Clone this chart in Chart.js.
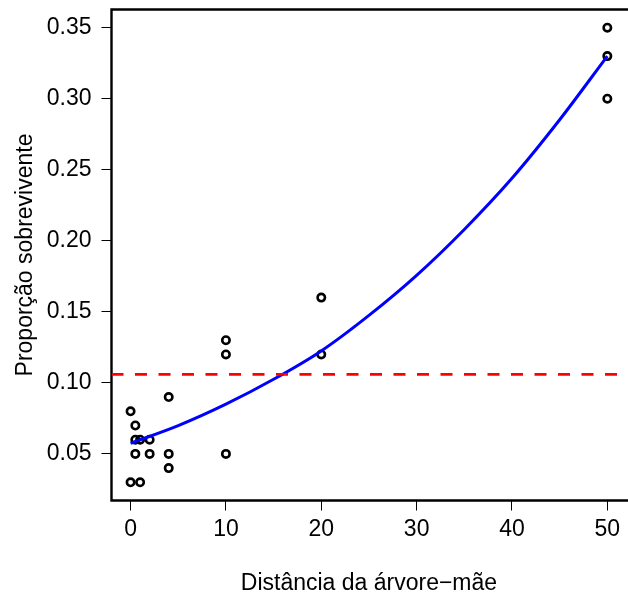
<!DOCTYPE html>
<html><head><meta charset="utf-8">
<script src="https://cdn.jsdelivr.net/npm/chart.js@4"></script>
<style>html,body{margin:0;padding:0;background:#fff;}canvas{display:block;}</style>
</head><body>
<canvas id="c" width="628" height="597"></canvas>
<script>
// Observed data: distance from mother tree vs proportion surviving
const distX = [0, 0, 0.5, 0.5, 0.5, 1, 1, 2, 2, 4, 4, 4, 10, 10, 10, 20, 20, 50, 50, 50];
const survY = [0.08, 0.03, 0.07, 0.06, 0.05, 0.06, 0.03, 0.06, 0.05, 0.09, 0.05, 0.04, 0.13, 0.12, 0.05, 0.16, 0.12, 0.35, 0.33, 0.30];
// Fitted curve
const curveX = [0, 5, 10, 15, 20, 25, 30, 35, 40, 45, 50];
const curveY = [0.0575, 0.0699, 0.0850, 0.1025, 0.1225, 0.1475, 0.1757, 0.2080, 0.2440, 0.2852, 0.3300];
// Mean proportion (dashed red line)
const meanY = [0.106];
// Axes
const xTicks = [0, 10, 20, 30, 40, 50];
const yTicks = [0.05, 0.10, 0.15, 0.20, 0.25, 0.30, 0.35];
const xRange = [-2, 52];
const yRange = [0.0172, 0.3628];
const xLabel = 'Distância da árvore−mãe';
const yLabel = 'Proporção sobrevivente';

const FONT = "'Liberation Sans', Arial, Helvetica, sans-serif";
Chart.defaults.font.family = FONT;
Chart.defaults.color = '#000';

const boxPlugin = {
  id: 'rbox',
  beforeDatasetsDraw(chart) {
    const {ctx, chartArea: a} = chart;
    ctx.save();
    ctx.strokeStyle = '#000';
    ctx.lineWidth = 2.4;
    ctx.lineCap = 'square';
    ctx.beginPath();
    ctx.moveTo(chart.width, a.top);
    ctx.lineTo(a.left, a.top);
    ctx.lineTo(a.left, a.bottom);
    ctx.lineTo(chart.width, a.bottom);
    ctx.stroke();
    ctx.restore();
  }
};

new Chart(document.getElementById('c'), {
  type: 'scatter',
  data: {
    datasets: [
      {
        label: 'media',
        data: xRange.map(x => ({x: x, y: meanY[0]})),
        showLine: true,
        borderColor: '#FF0000',
        borderWidth: 2.6,
        borderDash: [12, 11.5],
        pointRadius: 0,
        order: 1
      },
      {
        label: 'ajuste',
        data: curveX.map((x, i) => ({x: x, y: curveY[i]})),
        showLine: true,
        borderColor: '#0000FF',
        borderWidth: 3,
        cubicInterpolationMode: 'monotone',
        pointRadius: 0,
        order: 2
      },
      {
        label: 'observado',
        data: distX.map((x, i) => ({x: x, y: survY[i]})),
        showLine: false,
        pointStyle: 'circle',
        pointRadius: 3.7,
        pointBorderWidth: 2.6,
        borderWidth: 2.6,
        borderColor: '#000',
        pointBorderColor: '#000',
        backgroundColor: 'rgba(0,0,0,0)',
        pointBackgroundColor: 'rgba(0,0,0,0)',
        order: 3
      }
    ]
  },
  options: {
    responsive: false,
    devicePixelRatio: 1,
    animation: false,
    events: [],
    layout: {autoPadding: false, padding: {top: 9.5, right: 1.6, left: 0, bottom: 0}},
    plugins: {legend: {display: false}, tooltip: {enabled: false}},
    scales: {
      x: {
        type: 'linear',
        min: xRange[0],
        max: xRange[1],
        afterBuildTicks: s => { s.ticks = xTicks.map(v => ({value: v})); },
        afterFit: s => { s.height = 96.5; s.paddingLeft = 0; s.paddingRight = 0; },
        grid: {drawOnChartArea: false, drawTicks: true, tickLength: 10, color: '#000', lineWidth: 1},
        border: {display: false},
        ticks: {font: {size: 23}, color: '#000', padding: 5, maxRotation: 0, callback: v => String(v)},
        title: {display: true, text: xLabel, font: {size: 23}, color: '#000', padding: {top: 0, bottom: 0}}
      },
      y: {
        type: 'linear',
        min: yRange[0],
        max: yRange[1],
        afterBuildTicks: s => { s.ticks = yTicks.map(v => ({value: v})); },
        afterFit: s => { s.width = 111.5; s.paddingTop = 0; s.paddingBottom = 0; },
        grid: {drawOnChartArea: false, drawTicks: true, tickLength: 10, color: '#000', lineWidth: 1},
        border: {display: false},
        ticks: {font: {size: 23}, color: '#000', padding: 10, callback: v => Number(v).toFixed(2)},
        title: {display: true, text: yLabel, font: {size: 23}, color: '#000', padding: {top: 12, bottom: 0}}
      }
    }
  },
  plugins: [boxPlugin]
});
</script>
</body></html>
